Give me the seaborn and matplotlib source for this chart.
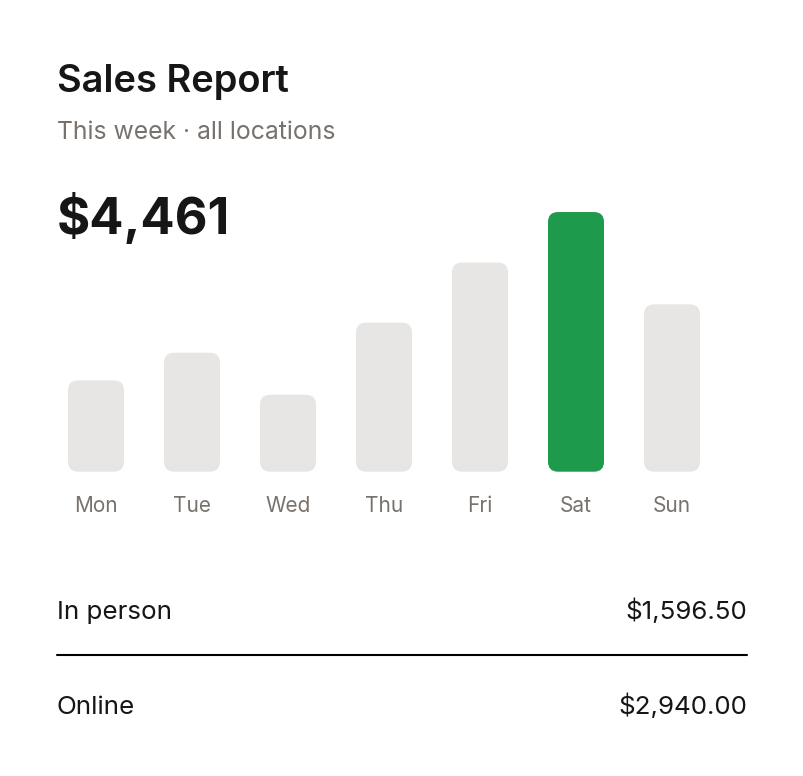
import matplotlib
matplotlib.use("Agg")
import matplotlib.pyplot as plt
import seaborn as sns
from matplotlib.patches import FancyBboxPatch
from matplotlib.lines import Line2D

# chart data
days = ["Mon", "Tue", "Wed", "Thu", "Fri", "Sat", "Sun"]
sales = [380, 495, 320, 620, 870, 1080, 696]
highlight_day = "Sat"
total_label = "$4,461"
row_labels = ["In person", "Online"]
row_values = ["$1,596.50", "$2,940.00"]

GREY = "#E7E6E4"
GREEN = "#1E9A4C"
MUTED = "#78716C"
INK = "#161616"

sns.set_theme(style="white")
plt.rcParams["font.family"] = ["Inter", "DejaVu Sans"]

W, H = 804, 776
fig = plt.figure(figsize=(W / 100, H / 100), dpi=100)
fig.patch.set_facecolor("white")


def fy(y):
    return 1 - y / H


# bar area in pixels
x0, x1 = 48, 720
y_base, y_top = 471.7, 200
k = 4.159  # sales units per pixel
ax = fig.add_axes([x0 / W, fy(y_base), (x1 - x0) / W, (y_base - y_top) / H])

colors = [GREEN if d == highlight_day else GREY for d in days]
sns.barplot(x=days, y=sales, hue=days, palette=colors, width=56 / 96,
            saturation=1, legend=False, ax=ax)
ax.set_xlim(-0.5, len(days) - 0.5)
ax.set_ylim(0, (y_base - y_top) * k)
ax.axis("off")

# swap plain bars for rounded ones
x_per_px = len(days) / (x1 - x0)
for p in list(ax.patches):
    bx, by = p.get_x(), p.get_y()
    bw, bh = p.get_width(), p.get_height()
    fc = p.get_facecolor()
    p.remove()
    ax.add_patch(FancyBboxPatch((bx, by), bw, bh,
                                boxstyle="round,pad=0,rounding_size=%f" % (10 * x_per_px),
                                mutation_aspect=k / x_per_px,
                                facecolor=fc, edgecolor="none"))

for i, d in enumerate(days):
    ax.text(i, -(511.7 - y_base) * k, d, ha="center", va="baseline",
            fontsize=15, color=MUTED, clip_on=False)

# header text
fig.text(57 / W, fy(92.3), "Sales Report", fontsize=27.4, fontweight="semibold",
         color=INK, va="baseline")
fig.text(57 / W, fy(139.3), "This week · all locations", fontsize=17.8,
         color=MUTED, va="baseline")
fig.text(57 / W, fy(234), total_label, fontsize=36.5, fontweight="bold",
         color=INK, va="baseline")

# breakdown rows
for lab, val, yb in zip(row_labels, row_values, [619, 713.5]):
    fig.text(57 / W, fy(yb), lab, fontsize=18.7, color=INK, va="baseline")
    fig.text(747 / W, fy(yb), val, fontsize=18.7, color=INK, va="baseline", ha="right")

fig.add_artist(Line2D([57 / W, 747 / W], [fy(655), fy(655)], color="black", lw=1.5))

fig.savefig("out.png", dpi=100, facecolor="white")
